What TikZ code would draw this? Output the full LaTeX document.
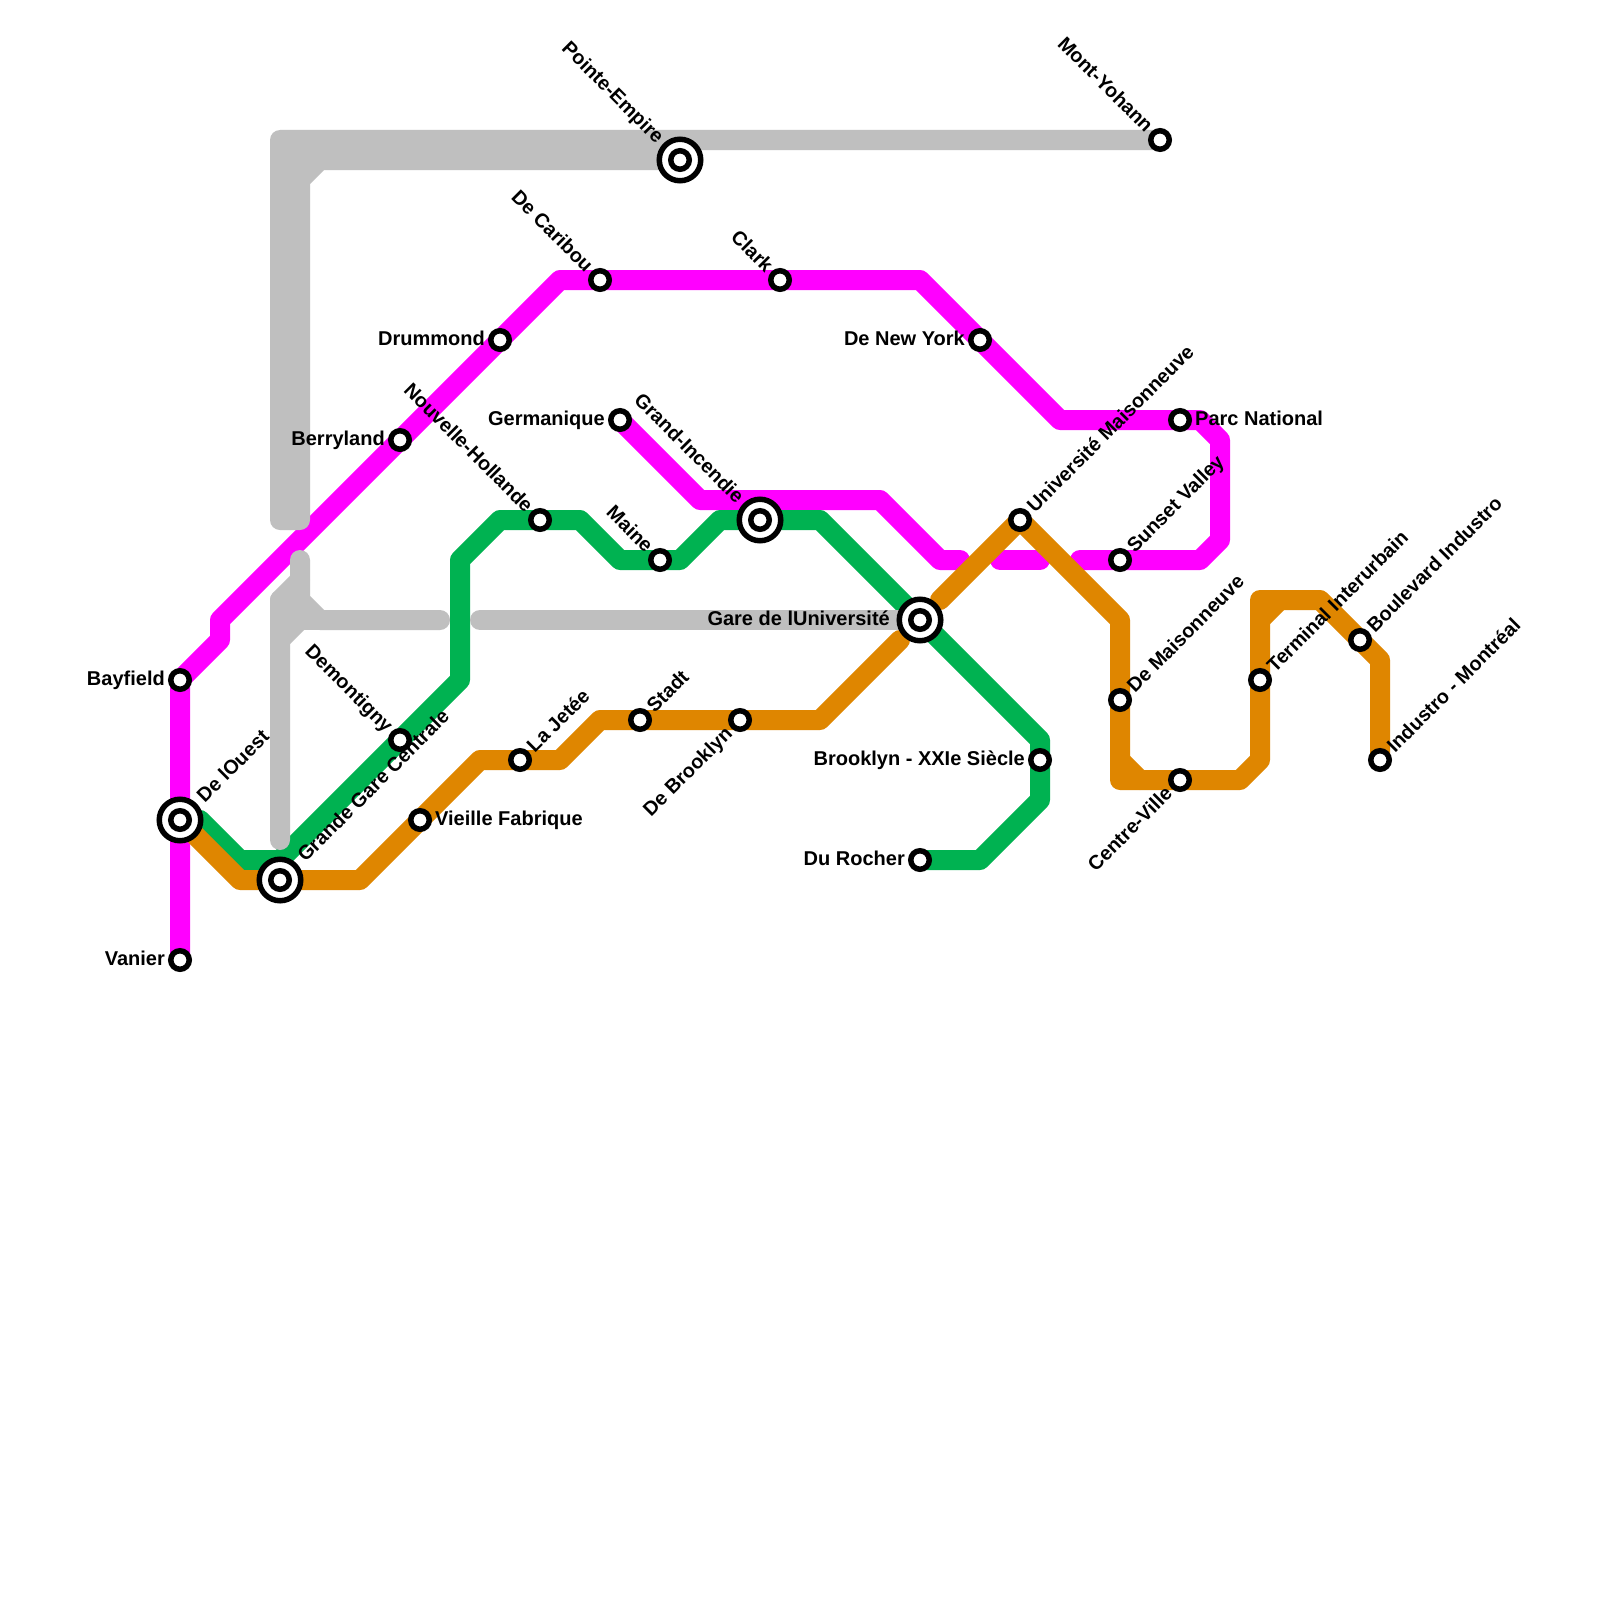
\documentclass[tikz,border=0pt]{standalone}
\usepackage{fontspec}
\setmainfont{Liberation Sans}
\definecolor{mgt}{HTML}{FF00FF}
\definecolor{grn}{HTML}{00B251}
\definecolor{org}{HTML}{DF8600}
\definecolor{gry}{HTML}{BFBFBF}
\tikzset{
  route/.style={line width=20pt,line join=round,line cap=round},
  mline/.style={route,draw=mgt},
  gline/.style={route,draw=grn},
  oline/.style={route,draw=org},
  yline/.style={route,draw=gry},
  stn/.style={circle,draw=black,fill=white,line width=5.5pt,minimum size=18.5pt,inner sep=0pt},
  bigstn/.style={circle,draw=black,fill=white,line width=5.5pt,minimum size=41.5pt,inner sep=0pt},
  lab/.style={font=\bfseries\fontsize{20pt}{20pt}\selectfont,inner sep=0pt,text=black},
  rlab/.style={lab,font=\bfseries\fontsize{19.8pt}{20pt}\selectfont},
  lr/.style={lab,anchor=base west,xshift=15pt,yshift=-5pt},
  ll/.style={lab,anchor=base east,xshift=-15pt,yshift=-5pt},
  ur/.style={rlab,rotate=45,anchor=base west,xshift=#1,yshift=-6pt},
  ur/.default=15pt,
  ul/.style={rlab,rotate=-45,anchor=base east,xshift=-#1,yshift=-6pt},
  ul/.default=15pt,
  dl/.style={rlab,rotate=45,anchor=base east,xshift=-#1,yshift=-6pt},
  dl/.default=15pt,
}
\begin{document}
\begin{tikzpicture}[x=1pt,y=-1pt]
\useasboundingbox[fill=white] (0,0) rectangle (1600,1600);
% stations positions
\coordinate (Bay) at (180,680);
\coordinate (Oue) at (180,820);
\coordinate (Van) at (180,960);
\coordinate (GGC) at (280,880);
\coordinate (Dem) at (400,740);
\coordinate (Vie) at (420,820);
\coordinate (Jet) at (520,760);
\coordinate (Sta) at (640,720);
\coordinate (Bro) at (740,720);
\coordinate (Uni) at (920,620);
\coordinate (UMa) at (1020,520);
\coordinate (Sun) at (1120,560);
\coordinate (DMa) at (1120,700);
\coordinate (Cen) at (1180,780);
\coordinate (Ter) at (1260,680);
\coordinate (Bou) at (1360,640);
\coordinate (Ind) at (1380,760);
\coordinate (Par) at (1180,420);
\coordinate (NYo) at (980,340);
\coordinate (Cla) at (780,280);
\coordinate (Car) at (600,280);
\coordinate (Dru) at (500,340);
\coordinate (Ber) at (400,440);
\coordinate (NHo) at (540,520);
\coordinate (Ger) at (620,420);
\coordinate (Mai) at (660,560);
\coordinate (GIn) at (760,520);
\coordinate (Poi) at (680,160);
\coordinate (Mon) at (1160,140);
\coordinate (BXX) at (1040,760);
\coordinate (Roc) at (920,860);
% magenta
\draw[mline] (Van) -- (Bay) -- (220,640) -- (220,620) -- (560,280) -- (920,280) -- (1060,420) -- (1200,420) -- (1220,440) -- (1220,540) -- (1200,560) -- (1080,560);
\draw[mline] (1040,560) -- (1000,560);
\draw[mline] (960,560) -- (940,560) -- (880,500) -- (700,500) -- (Ger);
% green
\draw[gline] (200,820) -- (240,860) -- (280,860) -- (460,680) -- (460,560) -- (500,520) -- (580,520) -- (620,560) -- (680,560) -- (720,520) -- (820,520) -- (1040,740) -- (1040,800) -- (980,860) -- (Roc);
% orange
\draw[oline] (195,835) -- (240,880) -- (360,880) -- (480,760) -- (560,760) -- (600,720) -- (820,720) -- (900,640);
\draw[oline] (940,600) -- (UMa) -- (1120,620) -- (1120,780) -- (1240,780) -- (1260,760) -- (1260,600) -- (1320,600) -- (1380,660) -- (Ind);
\draw[oline] (1120,760) -- (1140,780);
\draw[oline] (1260,620) -- (1280,600);
% grey
\draw[yline] (Mon) -- (280,140) -- (280,520) -- (300,520) -- (300,180) -- (320,160) -- (Poi);
\draw[yline] (290,150) -- (640,150);
\draw[yline] (290,160) -- (320,160);
\draw[yline] (290,150) -- (290,520);
\draw[yline] (280,840) -- (280,600) -- (300,580) -- (300,560);
\draw[yline] (300,580) -- (300,600) -- (320,620) -- (440,620);
\draw[yline] (280,600) -- (300,600);
\draw[yline] (280,620) -- (320,620);
\draw[yline] (280,640) -- (300,620);
\draw[yline] (480,620) -- (Uni);
% stations
\node[stn] (nBay) at (Bay) {};
\node[stn] (nVan) at (Van) {};
\node[stn] (nDem) at (Dem) {};
\node[stn] (nVie) at (Vie) {};
\node[stn] (nJet) at (Jet) {};
\node[stn] (nSta) at (Sta) {};
\node[stn] (nBro) at (Bro) {};
\node[stn] (nUMa) at (UMa) {};
\node[stn] (nSun) at (Sun) {};
\node[stn] (nDMa) at (DMa) {};
\node[stn] (nCen) at (Cen) {};
\node[stn] (nTer) at (Ter) {};
\node[stn] (nBou) at (Bou) {};
\node[stn] (nInd) at (Ind) {};
\node[stn] (nPar) at (Par) {};
\node[stn] (nNYo) at (NYo) {};
\node[stn] (nCla) at (Cla) {};
\node[stn] (nCar) at (Car) {};
\node[stn] (nDru) at (Dru) {};
\node[stn] (nBer) at (Ber) {};
\node[stn] (nNHo) at (NHo) {};
\node[stn] (nGer) at (Ger) {};
\node[stn] (nMai) at (Mai) {};
\node[stn] (nMon) at (Mon) {};
\node[stn] (nBXX) at (BXX) {};
\node[stn] (nRoc) at (Roc) {};
\foreach \p/\n in {Oue/o1,GGC/o2,Uni/o3,GIn/o4,Poi/o5}{
  \node[bigstn] (b\n) at (\p) {};
  \node[stn] (i\n) at (\p) {};
}
% labels
\node[ll] (tBay) at (Bay) {Bayfield};
\node[ll] (tVan) at (Van) {Vanier};
\node[ll] (tDru) at (Dru) {Drummond};
\node[ll] (tBer) at (Ber) {Berryland};
\node[ll] (tGer) at (Ger) {Germanique};
\node[ll] (tNYo) at (NYo) {De New York};
\node[ll,xshift=-15pt] (tUni) at (Uni) {Gare de lUniversité};
\node[ll] (tBXX) at (BXX) {Brooklyn - XXIe Siècle};
\node[ll] (tRoc) at (Roc) {Du Rocher};
\node[lr] (tVie) at (Vie) {Vieille Fabrique};
\node[lr] (tPar) at (Par) {Parc National};
\node[ur=29pt] (tOue) at (Oue) {De lOuest};
\node[ur=30pt] (tGGC) at (GGC) {Grande Gare Centrale};
\node[ur] (tJet) at (Jet) {La Jetée};
\node[ur] (tSta) at (Sta) {Stadt};
\node[ur] (tUMa) at (UMa) {Université Maisonneuve};
\node[ur] (tSun) at (Sun) {Sunset Valley};
\node[ur] (tDMa) at (DMa) {De Maisonneuve};
\node[ur] (tTer) at (Ter) {Terminal Interurbain};
\node[ur] (tBou) at (Bou) {Boulevard Industro};
\node[ur] (tInd) at (Ind) {Industro - Montréal};
\node[ul] (tDem) at (Dem) {Demontigny};
\node[ul] (tCla) at (Cla) {Clark};
\node[ul] (tCar) at (Car) {De Caribou};
\node[ul] (tNHo) at (NHo) {Nouvelle-Hollande};
\node[ul] (tMai) at (Mai) {Maine};
\node[ul] (tMon) at (Mon) {Mont-Yohann};
\node[ul=28pt] (tGIn) at (GIn) {Grand-Incendie};
\node[ul=28pt] (tPoi) at (Poi) {Pointe-Empire};
\node[dl] (tBro) at (Bro) {De Brooklyn};
\node[dl] (tCen) at (Cen) {Centre-Ville};
\end{tikzpicture}
\end{document}
